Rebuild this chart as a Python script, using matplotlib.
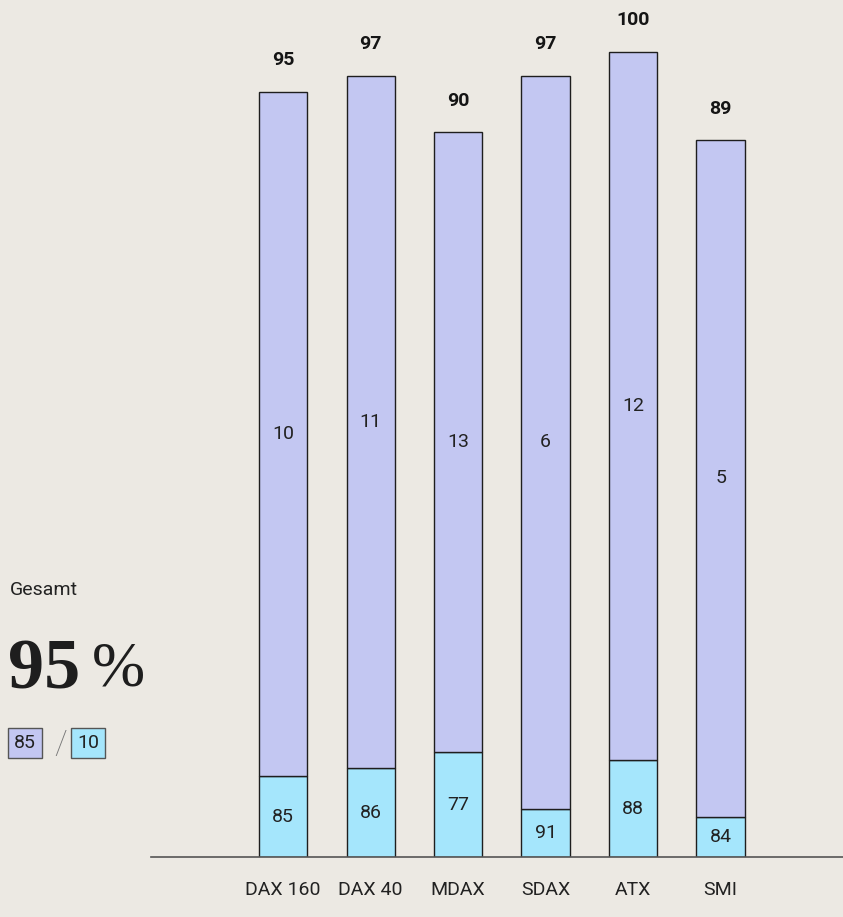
import matplotlib.pyplot as plt
import numpy as np

# Daten
indizes = ['DAX 160', 'DAX 40', 'MDAX', 'SDAX', 'ATX', 'SMI']
gesamt = [95, 97, 90, 97, 100, 89]
anteil_a = [85, 86, 77, 91, 88, 84]   # lila
anteil_b = [10, 11, 13, 6, 12, 5]     # hellblau

BG = '#ECE9E3'
LILA = '#C3C7F2'
BLAU = '#A5E6FC'
EDGE = '#1E1E1E'

plt.rcParams['font.family'] = ['Roboto', 'DejaVu Sans']

fig = plt.figure(figsize=(8.43, 9.17), dpi=100, facecolor=BG)
ax = fig.add_axes([151 / 843, 60 / 917, 692 / 843, 857 / 917])
ax.set_facecolor(BG)

x = np.arange(len(indizes))
gesamt_arr = np.array(gesamt)
b = np.array(anteil_b)
oben = gesamt_arr - b

ax.bar(x, b, width=0.55, color=BLAU, edgecolor=EDGE, linewidth=1)
ax.bar(x, oben, bottom=b, width=0.55, color=LILA, edgecolor=EDGE, linewidth=1)

for i in range(len(x)):
    ax.text(x[i], b[i] / 2, str(anteil_a[i]), ha='center', va='center',
            fontsize=14, color='#222222')
    ax.text(x[i], b[i] + oben[i] / 2, str(anteil_b[i]), ha='center', va='center',
            fontsize=14, color='#222222')
    ax.text(x[i], gesamt_arr[i] + 3.9, str(gesamt[i]), ha='center', va='center',
            fontsize=14, fontweight='bold', color='#151515')

ax.set_xlim(-1.51, 6.4)
ax.set_ylim(0, 106.4)
ax.set_xticks(x)
ax.set_xticklabels(indizes, fontsize=14, color='#222222')
ax.tick_params(axis='x', length=0, pad=17)
ax.set_yticks([])
for s in ['top', 'right', 'left']:
    ax.spines[s].set_visible(False)
ax.spines['bottom'].set_color('#555555')
ax.spines['bottom'].set_linewidth(1.2)

# Gesamtwert links
fig.text(10 / 843, 1 - 590 / 917, 'Gesamt', fontsize=14, color='#222222', va='center')
fig.text(8 / 843, 1 - 671 / 917, '95', fontsize=52, fontweight='bold',
         family='Liberation Serif', color='#1E1E1E', va='center')
fig.text(92 / 843, 1 - 671 / 917, '%', fontsize=46,
         family='Liberation Serif', color='#1E1E1E', va='center')
fig.text(14 / 843, 1 - 743 / 917, '85', fontsize=14, color='#222222', va='center',
         bbox=dict(boxstyle='square,pad=0.3', facecolor=LILA, edgecolor='#555555', linewidth=1))
fig.text(54 / 843, 1 - 745 / 917, '/', fontsize=24, color='#777777', va='center',
         fontweight='light')
fig.text(77 / 843, 1 - 743 / 917, '10', fontsize=14, color='#222222', va='center',
         bbox=dict(boxstyle='square,pad=0.3', facecolor=BLAU, edgecolor='#555555', linewidth=1))

fig.savefig('out.png', dpi=100, facecolor=BG)
